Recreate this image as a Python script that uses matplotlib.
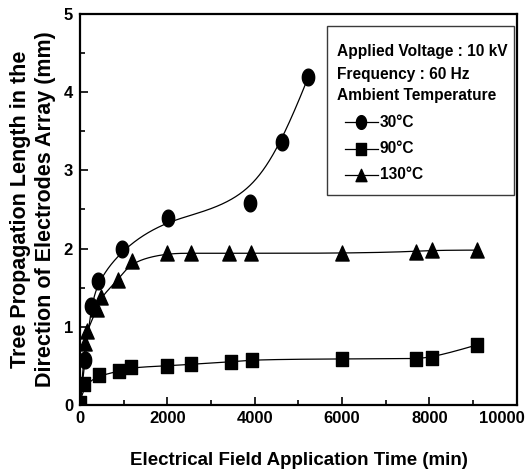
import numpy as np
import matplotlib
matplotlib.use("Agg")
import matplotlib.pyplot as plt
import matplotlib.transforms as mtransforms
from matplotlib.ticker import MultipleLocator, FuncFormatter
from matplotlib.path import Path
from matplotlib.patches import Rectangle

plt.rcParams['font.family'] = ['Liberation Sans', 'DejaVu Sans']
plt.rcParams['font.weight'] = 'bold'

# ---- data (time in min, length in mm) ----
t30 = [114, 244, 420, 953, 2006, 3890, 4630, 5225]
y30 = [0.58, 1.26, 1.59, 1.99, 2.39, 2.58, 3.36, 4.19]

t90 = [0, 92, 442, 900, 1160, 1983, 2533, 3449, 3929, 6000, 7690, 8062, 9100]
y90 = [0.03, 0.27, 0.38, 0.43, 0.48, 0.50, 0.52, 0.55, 0.58, 0.59, 0.59, 0.60, 0.77]

t130 = [114, 153, 397, 473, 877, 1182, 1983, 2550, 3418, 3906, 5988, 7689, 8062, 9092]
y130 = [0.79, 0.95, 1.23, 1.38, 1.60, 1.84, 1.94, 1.94, 1.94, 1.94, 1.94, 1.96, 1.98, 1.98]

labels = ["30°C", "90°C", "130°C"]
legend_title = ["Applied Voltage : 10 kV", "Frequency : 60 Hz", "Ambient Temperature"]
xlabel = "Electrical Field Application Time (min)"
ylabel = "Tree Propagation Length in the\nDirection of Electrodes Array (mm)"
xmax = 10000


def bspline(xs, ys, num=1500):
    """Clamped uniform cubic B-spline using the data points as control points."""
    P = np.column_stack([xs, ys]).astype(float)
    n, k = len(P), 3
    kv = np.concatenate([np.zeros(k), np.arange(n - k + 1), np.full(k, n - k)]).astype(float)
    u = np.linspace(0, n - k, num)
    u[-1] -= 1e-9
    N = np.zeros((num, len(kv) - 1))
    for i in range(len(kv) - 1):
        N[:, i] = (kv[i] <= u) & (u < kv[i + 1])
    for d in range(1, k + 1):
        Nn = np.zeros((num, len(kv) - 1 - d))
        for i in range(len(kv) - 1 - d):
            a = kv[i + d] - kv[i]
            b = kv[i + d + 1] - kv[i + 1]
            t1 = (u - kv[i]) / a * N[:, i] if a > 0 else 0
            t2 = (kv[i + d + 1] - u) / b * N[:, i + 1] if b > 0 else 0
            Nn[:, i] = t1 + t2
        N = Nn
    C = N @ P
    return C[:, 0], C[:, 1]


def shape_marker(kind, wr):
    if kind == 'o':
        th = np.linspace(0, 2 * np.pi, 60)
        v = np.column_stack([wr * np.cos(th), np.sin(th)])
    elif kind == 's':
        v = np.array([[-wr, -1], [wr, -1], [wr, 1], [-wr, 1], [-wr, -1]])
    else:
        v = np.array([[-wr, -1], [wr, -1], [0, 1], [-wr, -1]])
    return Path(v, closed=True)


fig = plt.figure(figsize=(5.3, 4.72), dpi=100)
ax = fig.add_axes([0.151, 0.142, 0.824, 0.8284])

series = [(t30, y30, shape_marker('o', 0.74), 12.0),
          (t90, y90, shape_marker('s', 0.84), 10.6),
          (t130, y130, shape_marker('^', 0.89), 10.8)]
for (t, y, mk, ms) in series:
    tc = list(t); yc = list(y)
    if tc[0] > 0:
        tc = [0] + tc; yc = [0] + yc
    cx, cy = bspline(tc, yc)
    ax.plot(cx, cy, color='black', lw=0.9, zorder=2)
    ax.plot(t, y, linestyle='none', marker=mk, ms=ms, color='black', zorder=3)

ax.set_xlim(0, xmax)
ax.set_ylim(0, 5)
ax.xaxis.set_major_locator(MultipleLocator(2000))
ax.xaxis.set_minor_locator(MultipleLocator(1000))
ax.yaxis.set_major_locator(MultipleLocator(1))
ax.yaxis.set_minor_locator(MultipleLocator(0.5))
# the last x tick label is drawn separately (right-aligned at the axis end)
ax.xaxis.set_major_formatter(FuncFormatter(lambda v, p: '' if v >= xmax else f'{v:.0f}'))
ax.tick_params(which='both', direction='in', top=False, right=False, width=1.2)
ax.tick_params(which='major', length=6, labelsize=12, pad=4)
ax.tick_params(axis='y', which='major', pad=5)
ax.tick_params(which='minor', length=3.5)
for sp in ax.spines.values():
    sp.set_linewidth(1.6)

off = mtransforms.ScaledTranslation(8 / 100, -5.6 / 100, fig.dpi_scale_trans)
ax.text(1.0, 0.0, f'{xmax}', transform=ax.transAxes + off, ha='right', va='top',
        fontsize=12, fontweight='bold')

ax.set_xlabel(xlabel, fontsize=13.5, fontweight='bold')
ax.xaxis.set_label_coords(0.502, -0.12)
ax.set_ylabel(ylabel, fontsize=15.5, fontweight='bold', linespacing=1.25)
ax.yaxis.set_label_coords(-0.056, 0.5)

# ---- legend box drawn in axes coordinates ----
ax.add_patch(Rectangle((0.5675, 0.5340), 0.4282, 0.4323, transform=ax.transAxes,
                       facecolor='#9a9a9a', edgecolor='none', zorder=4, clip_on=False))
ax.add_patch(Rectangle((0.5652, 0.5371), 0.4279, 0.4322, transform=ax.transAxes,
                       facecolor='white', edgecolor='#3a3a3a', lw=1.0, zorder=5, clip_on=False))
title_y = [0.8918, 0.8338, 0.7793]
for s, yy in zip(legend_title, title_y):
    ax.text(0.5881, yy, s, transform=ax.transAxes, fontsize=11.2, fontweight='bold',
            va='baseline', ha='left', zorder=6)
entry_y = [0.7230, 0.6547, 0.5890]
for (t, y, mk, ms), lab, yy in zip(series, labels, entry_y):
    ax.plot([0.6064, 0.6819], [yy, yy], transform=ax.transAxes, color='black', lw=0.9,
            zorder=6, clip_on=False)
    ax.plot([0.643], [yy], transform=ax.transAxes, marker=mk, ms=ms * 0.82, color='black',
            linestyle='none', zorder=7, clip_on=False)
    ax.text(0.6865, yy, lab, transform=ax.transAxes, fontsize=11.2, fontweight='bold',
            va='center', ha='left', zorder=6)

for lab in ax.get_xticklabels() + ax.get_yticklabels():
    lab.set_fontweight('bold')

fig.savefig("out.png", dpi=100)
